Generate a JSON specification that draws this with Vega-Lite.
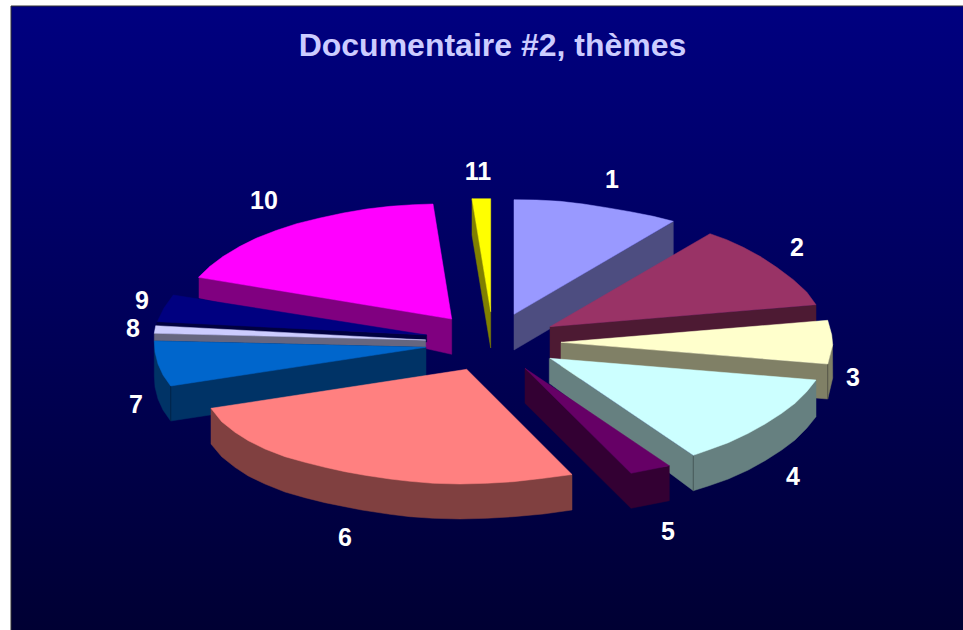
{"$schema":"https://vega.github.io/schema/vega-lite/v6.json","width":963,"height":630,"padding":0,"autosize":{"type":"none"},"background":"#ffffff","view":{"stroke":null},
"title":{"text":"Documentaire #2, thèmes","font":"Liberation Sans","fontSize":32,"fontWeight":"bold","color":"#ccccff","anchor":"middle","frame":"group","offset":-63,"dx":11},
"datasets":{
"frame":[{"x":11,"x2":964,"y":6,"y2":631}],
"labels":[{"label":"1","x":612,"y":180},{"label":"2","x":797,"y":248},{"label":"3","x":853,"y":378},{"label":"4","x":793,"y":477},{"label":"5","x":668,"y":532},{"label":"6","x":345,"y":538},{"label":"7","x":136,"y":405},{"label":"8","x":133,"y":329},{"label":"9","x":142,"y":301},{"label":"10","x":264,"y":201},{"label":"11","x":478,"y":172}],
"faces":[
{"face":"11 side","o":0,"x":472,"y":198.7},{"face":"11 side","o":1,"x":490.7,"y":311.7},{"face":"11 side","o":2,"x":490.7,"y":348},{"face":"11 side","o":3,"x":472,"y":235},
{"face":"11 top","o":0,"x":472,"y":198.7},{"face":"11 top","o":1,"x":490.7,"y":198.7},{"face":"11 top","o":2,"x":490.7,"y":311.7},
{"face":"1 side","o":0,"x":514,"y":314.3},{"face":"1 side","o":1,"x":673.3,"y":221.7},{"face":"1 side","o":2,"x":673.3,"y":256},{"face":"1 side","o":3,"x":514,"y":350},
{"face":"1 top","o":0,"x":514,"y":199.7},{"face":"1 top","o":1,"x":536.7,"y":200},{"face":"1 top","o":2,"x":560,"y":201.3},{"face":"1 top","o":3,"x":583.3,"y":204},{"face":"1 top","o":4,"x":606.7,"y":207.7},{"face":"1 top","o":5,"x":630,"y":211.7},{"face":"1 top","o":6,"x":653.3,"y":216.3},{"face":"1 top","o":7,"x":673.3,"y":221.3},{"face":"1 top","o":8,"x":514,"y":314.3},
{"face":"2 side","o":0,"x":550,"y":326.7},{"face":"2 side","o":1,"x":816,"y":305},{"face":"2 side","o":2,"x":816,"y":340},{"face":"2 side","o":3,"x":550,"y":361},
{"face":"2 top","o":0,"x":550,"y":326.7},{"face":"2 top","o":1,"x":710,"y":233.7},{"face":"2 top","o":2,"x":726.7,"y":239.7},{"face":"2 top","o":3,"x":743.3,"y":247.3},{"face":"2 top","o":4,"x":760,"y":256.3},{"face":"2 top","o":5,"x":776.7,"y":267.3},{"face":"2 top","o":6,"x":793.3,"y":279.7},{"face":"2 top","o":7,"x":806.7,"y":292},{"face":"2 top","o":8,"x":816,"y":304.7},
{"face":"3 side","o":0,"x":561,"y":342.3},{"face":"3 side","o":1,"x":827.7,"y":364},{"face":"3 side","o":2,"x":832.5,"y":344.7},{"face":"3 side","o":3,"x":832.7,"y":378},{"face":"3 side","o":4,"x":827.7,"y":399},{"face":"3 side","o":5,"x":561,"y":377},
{"face":"3 edge","o":0,"x":827.7,"y":364},{"face":"3 edge","o":1,"x":827.7,"y":399},
{"face":"3 top","o":0,"x":561,"y":342.3},{"face":"3 top","o":1,"x":827.7,"y":320.3},{"face":"3 top","o":2,"x":831.7,"y":334.7},{"face":"3 top","o":3,"x":832.7,"y":344.7},{"face":"3 top","o":4,"x":827.7,"y":364},
{"face":"4 side","o":0,"x":549.3,"y":358.3},{"face":"4 side","o":1,"x":549.3,"y":383.3},{"face":"4 side","o":2,"x":693.3,"y":490.7},{"face":"4 side","o":3,"x":708.3,"y":486},{"face":"4 side","o":4,"x":728.3,"y":479},{"face":"4 side","o":5,"x":748.3,"y":470},{"face":"4 side","o":6,"x":765,"y":460.7},{"face":"4 side","o":7,"x":781.7,"y":450},{"face":"4 side","o":8,"x":795,"y":440},{"face":"4 side","o":9,"x":806.7,"y":428.3},{"face":"4 side","o":10,"x":816,"y":416.7},{"face":"4 side","o":11,"x":816,"y":380},{"face":"4 side","o":12,"x":693.3,"y":455.7},
{"face":"4 edge","o":0,"x":693.3,"y":455.7},{"face":"4 edge","o":1,"x":693.3,"y":490.7},
{"face":"4 top","o":0,"x":550,"y":358.3},{"face":"4 top","o":1,"x":816,"y":380},{"face":"4 top","o":2,"x":806.7,"y":391.7},{"face":"4 top","o":3,"x":795,"y":403.3},{"face":"4 top","o":4,"x":781.7,"y":413.3},{"face":"4 top","o":5,"x":765,"y":424},{"face":"4 top","o":6,"x":748.3,"y":433.3},{"face":"4 top","o":7,"x":728.3,"y":442.7},{"face":"4 top","o":8,"x":708.3,"y":450},{"face":"4 top","o":9,"x":693.3,"y":455.3},
{"face":"10 side","o":0,"x":199,"y":277.3},{"face":"10 side","o":1,"x":451.7,"y":319},{"face":"10 side","o":2,"x":451.7,"y":354.3},{"face":"10 side","o":3,"x":199,"y":298},
{"face":"10 top","o":0,"x":198.5,"y":277.3},{"face":"10 top","o":1,"x":210,"y":266.3},{"face":"10 top","o":2,"x":223.3,"y":256.3},{"face":"10 top","o":3,"x":240,"y":246.3},{"face":"10 top","o":4,"x":256.7,"y":238},{"face":"10 top","o":5,"x":276.7,"y":230.3},{"face":"10 top","o":6,"x":296.7,"y":223.7},{"face":"10 top","o":7,"x":320,"y":218},{"face":"10 top","o":8,"x":343.3,"y":213},{"face":"10 top","o":9,"x":366.7,"y":209},{"face":"10 top","o":10,"x":390,"y":206.3},{"face":"10 top","o":11,"x":413.3,"y":204.7},{"face":"10 top","o":12,"x":433,"y":204},{"face":"10 top","o":13,"x":451.7,"y":319},
{"face":"9 side","o":0,"x":157.3,"y":321.7},{"face":"9 side","o":1,"x":426.7,"y":335},{"face":"9 side","o":2,"x":426.7,"y":342},{"face":"9 side","o":3,"x":155.7,"y":327},
{"face":"9 top","o":0,"x":173.3,"y":295},{"face":"9 top","o":1,"x":426.7,"y":335},{"face":"9 top","o":2,"x":157.3,"y":321.7},{"face":"9 top","o":3,"x":164,"y":308},
{"face":"8 side","o":0,"x":154.3,"y":333.3},{"face":"8 side","o":1,"x":425.7,"y":340},{"face":"8 side","o":2,"x":425.7,"y":347.3},{"face":"8 side","o":3,"x":154.3,"y":341},
{"face":"8 top","o":0,"x":155.7,"y":325.7},{"face":"8 top","o":1,"x":425.7,"y":340},{"face":"8 top","o":2,"x":154.3,"y":333.3},
{"face":"7 side","o":0,"x":154.3,"y":341},{"face":"7 side","o":1,"x":154.3,"y":376},{"face":"7 side","o":2,"x":155,"y":387},{"face":"7 side","o":3,"x":158,"y":399},{"face":"7 side","o":4,"x":163,"y":410},{"face":"7 side","o":5,"x":170.7,"y":421},{"face":"7 side","o":6,"x":426,"y":382},{"face":"7 side","o":7,"x":426,"y":347.3},
{"face":"7 edge","o":0,"x":170.7,"y":386},{"face":"7 edge","o":1,"x":170.7,"y":421},
{"face":"7 top","o":0,"x":154.3,"y":341},{"face":"7 top","o":1,"x":425.7,"y":347.3},{"face":"7 top","o":2,"x":170.7,"y":386},{"face":"7 top","o":3,"x":163,"y":375},{"face":"7 top","o":4,"x":158,"y":364},{"face":"7 top","o":5,"x":155,"y":352},
{"face":"6 side","o":0,"x":211,"y":408.3},{"face":"6 side","o":1,"x":211,"y":444},{"face":"6 side","o":2,"x":221.7,"y":456.7},{"face":"6 side","o":3,"x":235,"y":467.3},{"face":"6 side","o":4,"x":248.3,"y":476},{"face":"6 side","o":5,"x":265,"y":484},{"face":"6 side","o":6,"x":285,"y":492},{"face":"6 side","o":7,"x":305,"y":497.7},{"face":"6 side","o":8,"x":325,"y":502.7},{"face":"6 side","o":9,"x":345,"y":506.7},{"face":"6 side","o":10,"x":361.7,"y":510},{"face":"6 side","o":11,"x":390,"y":514.3},{"face":"6 side","o":12,"x":410,"y":516.7},{"face":"6 side","o":13,"x":433.3,"y":518.3},{"face":"6 side","o":14,"x":460,"y":519},{"face":"6 side","o":15,"x":486.7,"y":518.3},{"face":"6 side","o":16,"x":513.3,"y":516.7},{"face":"6 side","o":17,"x":543.3,"y":514},{"face":"6 side","o":18,"x":572,"y":510},{"face":"6 side","o":19,"x":572,"y":474.5},
{"face":"6 top","o":0,"x":466.7,"y":369.3},{"face":"6 top","o":1,"x":572,"y":474.5},{"face":"6 top","o":2,"x":543.3,"y":478.3},{"face":"6 top","o":3,"x":513.3,"y":481.7},{"face":"6 top","o":4,"x":486.7,"y":483.3},{"face":"6 top","o":5,"x":460,"y":484},{"face":"6 top","o":6,"x":433.3,"y":483.3},{"face":"6 top","o":7,"x":410,"y":481.3},{"face":"6 top","o":8,"x":390,"y":479},{"face":"6 top","o":9,"x":365,"y":475.3},{"face":"6 top","o":10,"x":345,"y":471.7},{"face":"6 top","o":11,"x":325,"y":467.3},{"face":"6 top","o":12,"x":305,"y":462.3},{"face":"6 top","o":13,"x":285,"y":456.7},{"face":"6 top","o":14,"x":265,"y":449},{"face":"6 top","o":15,"x":248.3,"y":440.7},{"face":"6 top","o":16,"x":235,"y":432.3},{"face":"6 top","o":17,"x":221.7,"y":421.7},{"face":"6 top","o":18,"x":211,"y":408.3},
{"face":"5 side","o":0,"x":525,"y":368.3},{"face":"5 side","o":1,"x":525,"y":403.3},{"face":"5 side","o":2,"x":631,"y":508.3},{"face":"5 side","o":3,"x":669.3,"y":500.7},{"face":"5 side","o":4,"x":669.3,"y":465.7},{"face":"5 side","o":5,"x":631,"y":473.3},
{"face":"5 top","o":0,"x":525,"y":368.3},{"face":"5 top","o":1,"x":669.3,"y":465.7},{"face":"5 top","o":2,"x":631,"y":473.3}
]},
"layer":[
{"data":{"name":"frame"},"mark":{"type":"rect","stroke":"#333333","strokeWidth":1,"fill":{"gradient":"linear","x1":0,"y1":0,"x2":0,"y2":1,"stops":[{"offset":0,"color":"#000080"},{"offset":1,"color":"#000033"}]}},
"encoding":{"x":{"field":"x","type":"quantitative","scale":{"domain":[0,963],"nice":false,"zero":false},"axis":null},"x2":{"field":"x2"},"y":{"field":"y","type":"quantitative","scale":{"domain":[630,0],"nice":false,"zero":false},"axis":null},"y2":{"field":"y2"}}},
{"data":{"name":"faces"},"mark":{"type":"line","strokeWidth":0.5,"interpolate":"linear-closed"},
"encoding":{"x":{"field":"x","type":"quantitative","axis":null},"y":{"field":"y","type":"quantitative","axis":null},"order":{"field":"o"},"detail":{"field":"face"},
"fill":{"field":"face","type":"nominal","legend":null,"scale":{"domain":["11 side","11 top","1 side","1 top","2 side","2 top","3 side","3 edge","3 top","4 side","4 edge","4 top","10 side","10 top","9 side","9 top","8 side","8 top","7 side","7 edge","7 top","6 side","6 top","5 side","5 top"],"range":["#808000","#ffff00","#4d4d80","#9999ff","#4d1a33","#993366","#808066","#4d4d40","#ffffcc","#668080","#405050","#ccffff","#800080","#ff00ff","#000040","#000080","#666680","#ccccff","#003366","#002244","#0066cc","#804040","#ff8080","#330033","#660066"]}},
"stroke":{"field":"face","type":"nominal","legend":null,"scale":{"domain":["11 side","11 top","1 side","1 top","2 side","2 top","3 side","3 edge","3 top","4 side","4 edge","4 top","10 side","10 top","9 side","9 top","8 side","8 top","7 side","7 edge","7 top","6 side","6 top","5 side","5 top"],"range":["#808000","#ffff00","#4d4d80","#9999ff","#4d1a33","#993366","#808066","#4d4d40","#ffffcc","#668080","#405050","#ccffff","#800080","#ff00ff","#000040","#000080","#666680","#ccccff","#003366","#002244","#0066cc","#804040","#ff8080","#330033","#660066"]}}}},
{"data":{"name":"labels"},"mark":{"type":"text","font":"Liberation Sans","fontSize":25,"fontWeight":"bold","color":"#ffffff","align":"center","baseline":"middle"},
"encoding":{"x":{"field":"x","type":"quantitative","axis":null},"y":{"field":"y","type":"quantitative","axis":null},"text":{"field":"label"}}}
]}
